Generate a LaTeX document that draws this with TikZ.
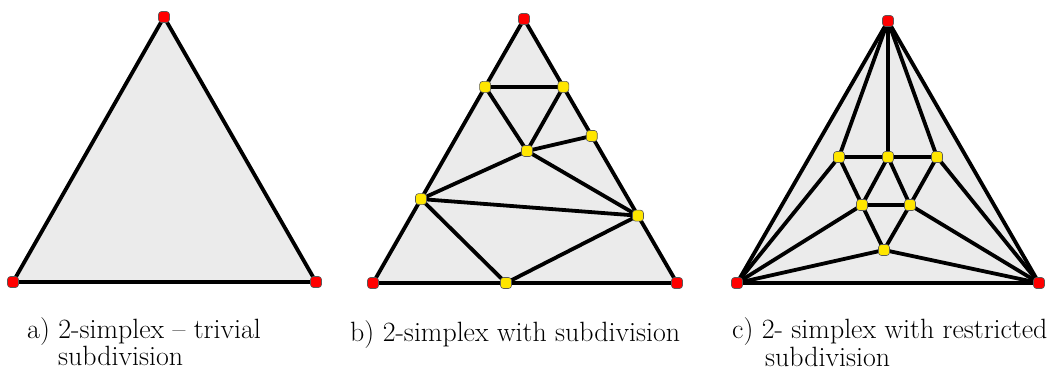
\documentclass[tikz,border=0pt]{standalone}
\usetikzlibrary{calc,backgrounds}
\definecolor{trifill}{HTML}{EBEBEB}
\definecolor{yelcol}{HTML}{FFE600}
\definecolor{redcol}{HTML}{FF0000}
\begin{document}
\begin{tikzpicture}[x=1bp,y=-1bp,
  edge/.style={line width=3.8bp, black, line cap=round, line join=round},
  vtx/.style={rectangle, rounded corners=3bp, minimum size=11bp, inner sep=0pt, draw=black!65, line width=0.6bp},
  redv/.style={vtx, fill=redcol},
  yelv/.style={vtx, fill=yelcol},
  lbl/.style={anchor=base west, inner sep=0pt, font=\fontsize{28}{30}\selectfont}]
\useasboundingbox (0,0) rectangle (1051,373);
% ---------- panel a ----------
\node[redv] (A1) at (164,17) {};
\node[redv] (A2) at (13,282) {};
\node[redv] (A3) at (316,282) {};
% ---------- panel b ----------
\node[redv] (B1) at (524,19) {};
\node[redv] (B2) at (373,283) {};
\node[redv] (B3) at (677,283) {};
\node[yelv] (b1) at ($(B1.center)!0.257!(B2.center)$) {};
\node[yelv] (b2) at ($(B1.center)!0.257!(B3.center)$) {};
\node[yelv] (b3) at ($(B1.center)!0.443!(B3.center)$) {};
\node[yelv] (b4) at (527,151) {};
\node[yelv] (b5) at ($(B1.center)!0.682!(B2.center)$) {};
\node[yelv] (b6) at ($(B1.center)!0.745!(B3.center)$) {};
\node[yelv] (b7) at (506,283) {};
% ---------- panel c ----------
\node[redv] (C1) at (888,21) {};
\node[redv] (C2) at (737,283) {};
\node[redv] (C3) at (1039,283) {};
\node[yelv] (c1) at (839,157) {};
\node[yelv] (c2) at (888,157) {};
\node[yelv] (c3) at (937,157) {};
\node[yelv] (c4) at (862,205) {};
\node[yelv] (c5) at (910,205) {};
\node[yelv] (c6) at (884,250) {};
\begin{pgfonlayer}{background}
  \fill[trifill] (A1.center) -- (A2.center) -- (A3.center) -- cycle;
  \fill[trifill] (B1.center) -- (B2.center) -- (B3.center) -- cycle;
  \fill[trifill] (C1.center) -- (C2.center) -- (C3.center) -- cycle;
  % a
  \draw[edge] (A1.center) -- (A2.center) -- (A3.center) -- cycle;
  % b
  \draw[edge] (B1.center) -- (B2.center) -- (B3.center) -- cycle;
  \draw[edge] (b1.center) -- (b2.center);
  \draw[edge] (b1.center) -- (b4.center);
  \draw[edge] (b2.center) -- (b4.center);
  \draw[edge] (b4.center) -- (b3.center);
  \draw[edge] (b4.center) -- (b5.center);
  \draw[edge] (b4.center) -- (b6.center);
  \draw[edge] (b5.center) -- (b6.center);
  \draw[edge] (b5.center) -- (b7.center);
  \draw[edge] (b7.center) -- (b6.center);
  % c
  \draw[edge] (C1.center) -- (C2.center) -- (C3.center) -- cycle;
  \draw[edge] (C1.center) -- (c1.center);
  \draw[edge] (C1.center) -- (c2.center);
  \draw[edge] (C1.center) -- (c3.center);
  \draw[edge] (C2.center) -- (c1.center);
  \draw[edge] (C2.center) -- (c4.center);
  \draw[edge] (C2.center) -- (c6.center);
  \draw[edge] (C3.center) -- (c3.center);
  \draw[edge] (C3.center) -- (c5.center);
  \draw[edge] (C3.center) -- (c6.center);
  \draw[edge] (c1.center) -- (c2.center) -- (c3.center);
  \draw[edge] (c1.center) -- (c4.center);
  \draw[edge] (c2.center) -- (c4.center);
  \draw[edge] (c2.center) -- (c5.center);
  \draw[edge] (c3.center) -- (c5.center);
  \draw[edge] (c4.center) -- (c5.center);
  \draw[edge] (c4.center) -- (c6.center);
  \draw[edge] (c5.center) -- (c6.center);
\end{pgfonlayer}
% ---------- labels ----------
\node[lbl] (la1) at (27,338) {a) 2-simplex -- trivial};
\node[lbl] (la2) at (58,365) {subdivision};
\node[lbl] (lb1) at (350,341) {b) 2-simplex with subdivision};
\node[lbl] (lc1) at (732,338) {c) 2- simplex with restricted};
\node[lbl] (lc2) at (765,366) {subdivision};
\end{tikzpicture}
\end{document}
